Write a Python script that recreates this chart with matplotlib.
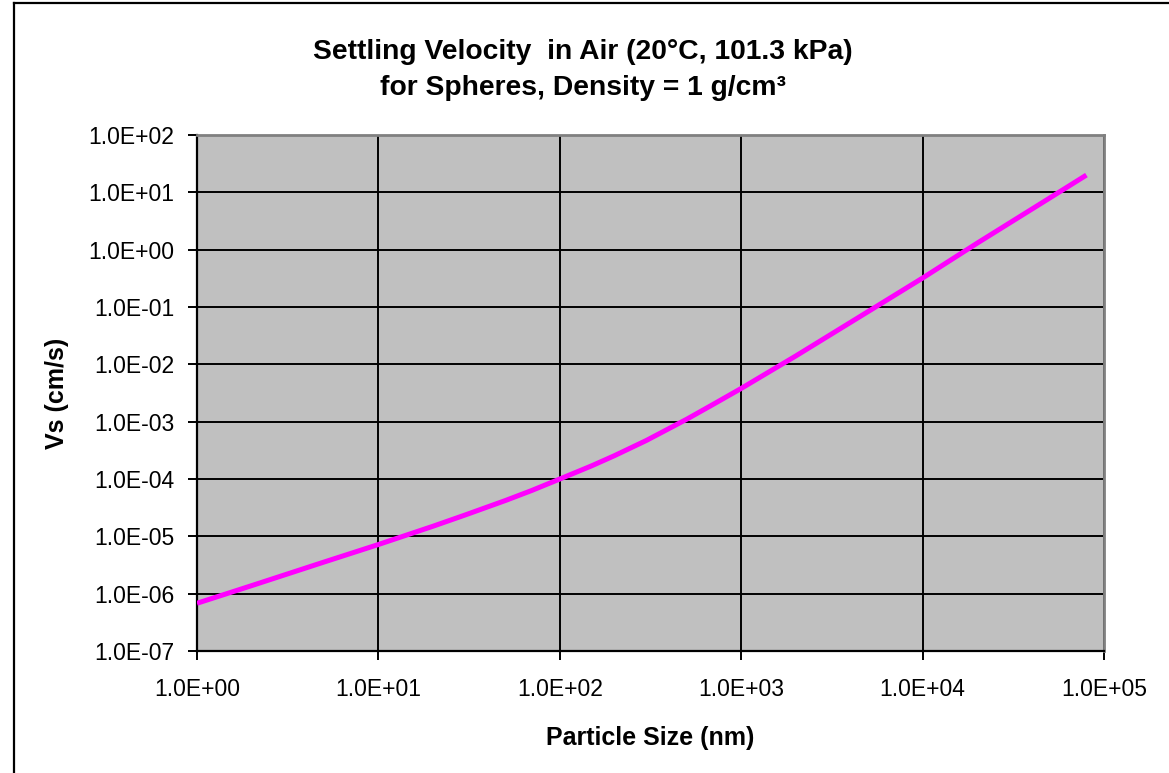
"""Settling velocity of unit-density spheres in air, Excel-style log-log chart."""
import matplotlib
matplotlib.use("Agg")
import matplotlib.pyplot as plt
from matplotlib.lines import Line2D
from matplotlib.ticker import FixedLocator, FuncFormatter, NullLocator

# Data
size_nm = [1, 2, 5, 10, 20, 30, 50, 70, 100, 150, 200, 300, 500, 700, 1000,
           2000, 5000, 10000, 20000, 50000, 80000]
velocity_cms = [6.8e-7, 1.38e-6, 3.55e-6, 7.2e-6, 1.5e-5, 2.35e-5, 4.2e-5,
                6.3e-5, 1.0e-4, 1.7e-4, 2.55e-4, 4.7e-4, 1.1e-3, 2.0e-3,
                3.8e-3, 1.4e-2, 8.3e-2, 0.32, 1.3, 7.9, 20]
x_ticks = [1e0, 1e1, 1e2, 1e3, 1e4, 1e5]
y_ticks = [1e-7, 1e-6, 1e-5, 1e-4, 1e-3, 1e-2, 1e-1, 1e0, 1e1, 1e2]

FONT = ["Liberation Sans", "DejaVu Sans"]
PLOT_BG = "#C0C0C0"
LINE = "#FF00FF"

plt.rcParams.update({
    "font.family": FONT,
    "axes.unicode_minus": False,
})

W, H = 1169, 773
fig = plt.figure(figsize=(W / 100, H / 100), dpi=100)
fig.patch.set_facecolor("white")

# chart-area frame (left and top edges visible)
fig.add_artist(Line2D([14 / W, 14 / W], [0, 1 - 3 / H], color="black", lw=1.6,
                      transform=fig.transFigure))
fig.add_artist(Line2D([14 / W, 1], [1 - 3 / H, 1 - 3 / H], color="black", lw=1.6,
                      transform=fig.transFigure))

ax = fig.add_axes([197 / W, 1 - 651 / H, (1104 - 197) / W, (651 - 135) / H])
ax.set_facecolor(PLOT_BG)
ax.set_xscale("log")
ax.set_yscale("log")
ax.set_xlim(1e0, 1e5)
ax.set_ylim(1e-7, 1e2)

ax.plot(size_nm, velocity_cms, color=LINE, lw=3.6, solid_capstyle="butt", zorder=3)

ax.xaxis.set_major_locator(FixedLocator(x_ticks))
ax.yaxis.set_major_locator(FixedLocator(y_ticks))
ax.xaxis.set_minor_locator(NullLocator())
ax.yaxis.set_minor_locator(NullLocator())
fmt = FuncFormatter(lambda v, p: f"{v:.1E}")
ax.xaxis.set_major_formatter(fmt)
ax.yaxis.set_major_formatter(fmt)

ax.grid(True, which="major", color="black", lw=1.4, zorder=1)
ax.set_axisbelow(True)
for side in ("left", "bottom"):
    ax.spines[side].set_color("black")
    ax.spines[side].set_linewidth(1.6)
for side in ("top", "right"):
    ax.spines[side].set_color("#808080")
    ax.spines[side].set_linewidth(2)

ax.tick_params(axis="both", direction="out", length=6.5, width=1.4, color="black",
               labelsize=16.5, labelcolor="black")
ax.tick_params(axis="y", pad=10)
ax.tick_params(axis="x", pad=13)

ax.set_xlabel("Particle Size (nm)", fontsize=18, fontweight="bold", labelpad=18)
ax.set_ylabel("Vs (cm/s)", fontsize=18, fontweight="bold", labelpad=14)

fig.text(583 / W, 1 - 52 / H, "Settling Velocity  in Air (20°C, 101.3 kPa)",
         ha="center", va="center", fontsize=20.3, fontweight="bold")
fig.text(583 / W, 1 - 88 / H, "for Spheres, Density = 1 g/cm³",
         ha="center", va="center", fontsize=20.3, fontweight="bold")

fig.savefig("out.png", dpi=100, facecolor="white")
